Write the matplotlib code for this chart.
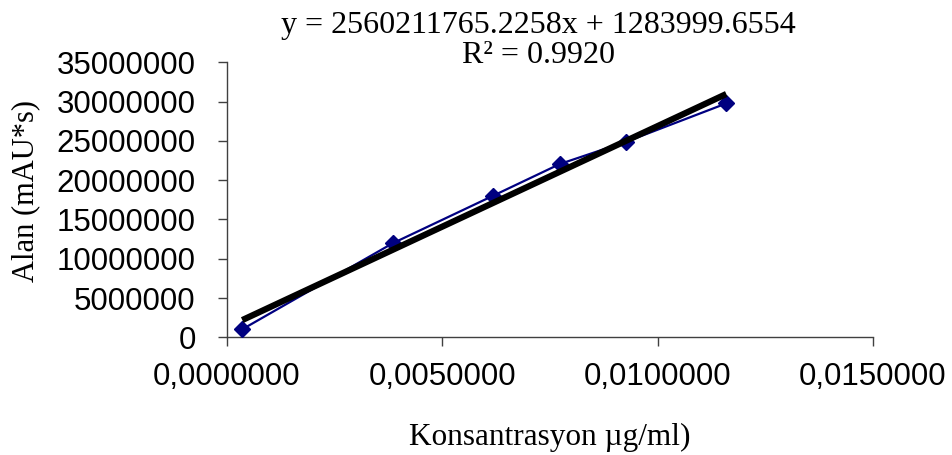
import matplotlib
matplotlib.use("Agg")
import matplotlib.pyplot as plt
from matplotlib.ticker import FixedLocator, FuncFormatter

# Calibration data: concentration (µg/ml) vs. peak area (mAU*s)
concentration = [0.000355, 0.003845, 0.006165, 0.007726, 0.009274, 0.011594]
peak_area = [1020000, 11960000, 17980000, 22050000, 24900000, 29770000]

# Linear trendline parameters
slope = 2560211765.2258
intercept = 1283999.6554
r_squared = 0.9920

x_ticks = [0.0, 0.005, 0.010, 0.015]
y_ticks = [0, 5000000, 10000000, 15000000, 20000000, 25000000, 30000000, 35000000]

W, H = 952, 455
fig = plt.figure(figsize=(W / 100, H / 100), dpi=100)
left, right, top, bottom = 227, 873, 62.3, 337.3
ax = fig.add_axes([left / W, 1 - bottom / H, (right - left) / W, (bottom - top) / H])

sans = ["Liberation Sans", "DejaVu Sans"]
serif = ["Liberation Serif", "DejaVu Serif"]

# Data series
ax.plot(concentration, peak_area, color="#000080", lw=1.6, marker="D",
        markersize=8.5, markeredgecolor="#000080", markerfacecolor="#000080",
        zorder=3, clip_on=False)

# Trendline over the span of the data
x0, x1 = concentration[0], concentration[-1]
ax.plot([x0, x1], [slope * x0 + intercept, slope * x1 + intercept],
        color="black", lw=4.5, solid_capstyle="butt", zorder=4, clip_on=False)

ax.set_xlim(0, 0.015)
ax.set_ylim(0, 35000000)
ax.xaxis.set_major_locator(FixedLocator(x_ticks))
ax.yaxis.set_major_locator(FixedLocator(y_ticks))
ax.xaxis.set_major_formatter(FuncFormatter(lambda v, p: f"{v:.7f}".replace(".", ",")))
ax.yaxis.set_major_formatter(FuncFormatter(lambda v, p: f"{int(round(v))}"))

for s in ("top", "right"):
    ax.spines[s].set_visible(False)
for s in ("left", "bottom"):
    ax.spines[s].set_color("#404040")
    ax.spines[s].set_linewidth(1.0)

ax.tick_params(axis="both", direction="out", length=6.5, width=1.0, color="#404040",
               labelsize=22.5)
ax.tick_params(axis="x", pad=11)
ax.tick_params(axis="y", pad=16)
for lab in ax.get_xticklabels() + ax.get_yticklabels():
    lab.set_family(sans)

ax.set_xlabel("Konsantrasyon µg/ml)", family=serif, fontsize=22.5, va="baseline")
ax.xaxis.set_label_coords(550 / W, 1 - 445 / H, transform=fig.transFigure)
ax.set_ylabel("Alan (mAU*s)", family=serif, fontsize=22, va="center")
ax.yaxis.set_label_coords(26 / W, 1 - 191 / H, transform=fig.transFigure)

fig.text(538 / W, 1 - 33 / H, f"y = {slope:.4f}x + {intercept:.4f}",
         family=serif, fontsize=23, ha="center", va="baseline")
fig.text(538 / W, 1 - 63 / H, f"R² = {r_squared:.4f}",
         family=serif, fontsize=23, ha="center", va="baseline")

fig.savefig("out.png", dpi=100, facecolor="white")
